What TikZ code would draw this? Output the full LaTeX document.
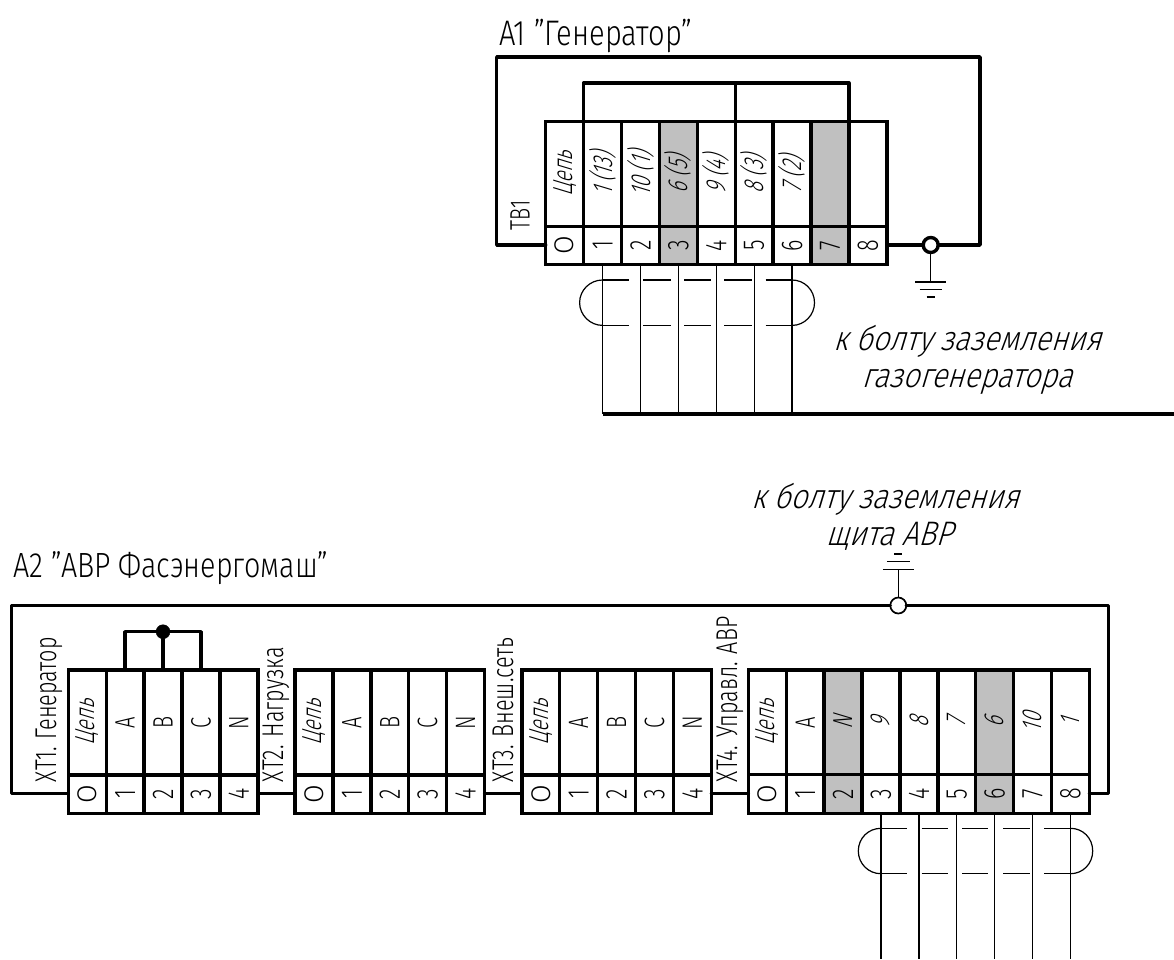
\documentclass[tikz,border=0pt]{standalone}
\usepackage{graphicx}
\usepackage{fontspec}
\newfontfamily\gost[FakeStretch=0.72]{Fira Sans Light}
\newfontfamily\gosttitle[FakeStretch=0.82]{Fira Sans Light}
\newfontfamily\gostit[FakeStretch=0.72,FakeSlant=0.3]{Fira Sans Light}
\newfontfamily\gostnote[FakeStretch=0.86,FakeSlant=0.3]{Fira Sans Light}
\newfontfamily\gostround{Fira Sans Light}
\newcommand{\rl}[1]{\rotatebox{90}{\fontsize{28}{30}\selectfont\gost #1}}
\newcommand{\rd}[1]{\rotatebox{90}{\fontsize{30}{32}\selectfont\gost #1}}
\newcommand{\ri}[1]{\rotatebox{90}{\fontsize{27.5}{30}\selectfont\gostit #1}}
\newcommand{\ro}{\rotatebox{90}{\fontsize{27}{30}\selectfont\gostround O}}
\definecolor{cellgray}{HTML}{C0C0C0}
\tikzset{
  upcell/.style={rectangle,draw=black,line width=3.4pt,inner sep=0pt,outer sep=0pt,minimum width=37.9pt,minimum height=105pt},
  locell/.style={rectangle,draw=black,line width=3.4pt,inner sep=0pt,outer sep=0pt,minimum width=37.9pt,minimum height=38.5pt},
  thickw/.style={line width=3.4pt,line cap=round,line join=round},
  thinw/.style={line width=1.3pt},
  shieldl/.style={line width=1.2pt},
  gndbar/.style={line width=1.3pt},
  jointA/.style={circle,draw=black,fill=white,line width=3.4pt,inner sep=0pt,outer sep=0pt,minimum size=15pt},
  jointB/.style={circle,draw=black,fill=white,line width=1.7pt,inner sep=0pt,outer sep=0pt,minimum size=16pt},
  jointC/.style={circle,draw=black,fill=black,inner sep=0pt,outer sep=0pt,minimum size=14pt},
  lab/.style={inner sep=0pt,outer sep=0pt,text=black},
  titlelab/.style={lab,font=\fontsize{35.5}{40}\selectfont\gosttitle,anchor=base west},
  notelab/.style={lab,font=\fontsize{34}{37.5}\selectfont\gostnote,align=center},
}
\begin{document}
\begin{tikzpicture}[x=1pt,y=-1pt]
\useasboundingbox[fill=white] (0,0) rectangle (1174,959);
% ---------- A1 ----------
\foreach \i/\u/\l/\c in {
 0/{\ri{Цепь}}/{\ro}/white,
 1/{\ri{1 (13)}}/{\rd{1}}/white,
 2/{\ri{10 (1)}}/{\rd{2}}/white,
 3/{\ri{6 (5)}}/{\rd{3}}/cellgray,
 4/{\ri{9 (4)}}/{\rd{4}}/white,
 5/{\ri{8 (3)}}/{\rd{5}}/white,
 6/{\ri{7 (2)}}/{\rd{6}}/white,
 7/{}/{\rd{7}}/cellgray,
 8/{}/{\rd{8}}/white}{
  \node[upcell,fill=\c] (au\i) at ({564.65+37.9*\i},174) {\u};
  \node[locell,fill=\c] (al\i) at ({564.65+37.9*\i},245.5) {\l};
}
\node[titlelab] (atitle) at (499,45) {A1 ”Генератор”};
\node[lab] (atb) at (520,230) [anchor=south] {\rl{TB1}};
\coordinate (aTL) at (496.7,57);
\coordinate (aTR) at (980,57);
\coordinate (aBL) at (496.7,245);
\coordinate (aBR) at (980,245);
\node[jointA] (agnd) at (930.7,245) {};
\draw[thickw] (al0.west |- aBL) -- (aBL) -- (aTL) -- (aTR) -- (aBR) -- (agnd.east);
\draw[thickw] (agnd.west) -- (al8.east |- aBL);
% bridge
\coordinate (aBrY) at (0,83);
\draw[thickw] (au0.north east) -- (au0.north east |- aBrY) -- (au7.north east |- aBrY) -- (au7.north east);
\draw[thickw] (au4.north east) -- (au4.north east |- aBrY);
% earth
\coordinate (ae1) at (930.7,282);
\coordinate (ae2) at (930.7,289.5);
\coordinate (ae3) at (930.7,297);
\draw[thinw] (agnd.south) -- (ae1);
\draw[gndbar] ([xshift=-15.5pt]ae1) -- ([xshift=15.5pt]ae1);
\draw[gndbar] ([xshift=-11pt]ae2) -- ([xshift=11pt]ae2);
\draw[gndbar] ([xshift=-4pt]ae3) -- ([xshift=4pt]ae3);
\node[notelab] (anote) at (967,360) {к болту заземления\\газогенератора};
% wires + bus
\coordinate (busL) at (602.6,414);
\coordinate (busR) at (1174,414);
\foreach \i in {1,...,6}{\draw[thinw] (al\i.south) -- (al\i.south |- busL);}
\draw[line width=3.4pt] (busL) -- (busR);
% shield
\draw[shieldl] (al1.south |- 0,280) .. controls +(-12.4,0) and (579.6,290) .. (579.6,302.7) .. controls (579.6,315) and +(-12.4,0) .. (al1.south |- 0,325.4);
\draw[shieldl] (al6.south |- 0,280) .. controls +(12.4,0) and (814.5,290) .. (814.5,302.7) .. controls (814.5,315) and +(12.4,0) .. (al6.south |- 0,325.4);
\foreach \y in {280,325.4}{
 \foreach \a/\b in {602.6/629,643/671,684/711,724/752,765.6/792}{
  \draw[shieldl] (\a,\y) -- (\b,\y);
 }
}
% ---------- A2 ----------
\foreach \g/\x in {1/68.3,2/295,3/521.8}{
 \foreach \i/\u/\l in {
  0/{\ri{Цепь}}/{\ro},
  1/{\rl{A}}/{\rd{1}},
  2/{\rl{B}}/{\rd{2}},
  3/{\rl{C}}/{\rd{3}},
  4/{\rl{N}}/{\rd{4}}}{
   \node[upcell] (b\g u\i) at ({\x+18.95+37.9*\i},722.5) {\u};
   \node[locell] (b\g l\i) at ({\x+18.95+37.9*\i},794) {\l};
 }
}
\foreach \i/\u/\l/\c in {
 0/{\ri{Цепь}}/{\ro}/white,
 1/{\rl{A}}/{\rd{1}}/white,
 2/{\ri{N}}/{\rd{2}}/cellgray,
 3/{\ri{9}}/{\rd{3}}/white,
 4/{\ri{8}}/{\rd{4}}/white,
 5/{\ri{7}}/{\rd{5}}/white,
 6/{\ri{6}}/{\rd{6}}/cellgray,
 7/{\ri{10}}/{\rd{7}}/white,
 8/{\ri{1}}/{\rd{8}}/white}{
  \node[upcell,fill=\c] (b4u\i) at ({748.3+18.95+37.9*\i},722.5) {\u};
  \node[locell,fill=\c] (b4l\i) at ({748.3+18.95+37.9*\i},794) {\l};
}
\node[titlelab,font=\fontsize{35}{40}\selectfont\gosttitle] (btitle) at (13,577) {A2 ”АВР Фасэнергомаш”};
\node[lab,anchor=south] (bx1) at (49,782) {\rd{XT1. Генератор}};
\node[lab,anchor=south] (bx2) at (276,782) {\rd{XT2. Нагрузка}};
\node[lab,anchor=south] (bx3) at (503,782) {\rd{XT3. Внеш.сеть}};
\node[lab,anchor=south] (bx4) at (730,782) {\rd{XT4. Управл. АВР}};
\coordinate (bTL) at (11.7,605.5);
\coordinate (bTR) at (1108.3,605.5);
\coordinate (bBL) at (11.7,793.5);
\coordinate (bBR) at (1108.3,793.5);
\node[jointB] (bgnd) at (898.3,605.5) {};
\draw[thickw] (b1l0.west |- bBL) -- (bBL) -- (bTL) -- (bgnd.west);
\draw[thickw] (bgnd.east) -- (bTR) -- (bBR) -- (b4l8.east |- bBR);
\draw[thickw] (b1l4.east |- bBL) -- (b2l0.west |- bBL);
\draw[thickw] (b2l4.east |- bBL) -- (b3l0.west |- bBL);
\draw[thickw] (b3l4.east |- bBL) -- (b4l0.west |- bBL);
% jumper
\node[jointC] (bjp) at (b1u2.north |- 0,631.7) {};
\draw[thickw] (b1u1.north) -- (b1u1.north |- bjp) -- (b1u3.north |- bjp) -- (b1u3.north);
\draw[thickw] (bjp) -- (b1u2.north);
% earth
\coordinate (be1) at (898.3,569.5);
\coordinate (be2) at (898.3,561.5);
\coordinate (be3) at (898.3,554);
\draw[thinw] (bgnd.north) -- (be1);
\draw[gndbar] ([xshift=-15.5pt]be1) -- ([xshift=15.5pt]be1);
\draw[gndbar] ([xshift=-11.5pt]be2) -- ([xshift=11.5pt]be2);
\draw[gndbar] ([xshift=-4pt]be3) -- ([xshift=4pt]be3);
\node[notelab] (bnote) at (885,517) {к болту заземления\\\hspace*{8pt}щита АВР};
% wires
\coordinate (wEnd) at (0,959);
\foreach \i in {3,...,8}{\draw[thinw] (b4l\i.south) -- (b4l\i.south |- wEnd);}
% shield
\draw[shieldl] (b4l3.south |- 0,828.3) .. controls +(-12.4,0) and (858.3,838) .. (858.3,851) .. controls (858.3,863.7) and +(-12.4,0) .. (b4l3.south |- 0,873.7);
\draw[shieldl] (b4l8.south |- 0,828.3) .. controls +(12.4,0) and (1092.7,838) .. (1092.7,851) .. controls (1092.7,863.7) and +(12.4,0) .. (b4l8.south |- 0,873.7);
\foreach \y in {828.3,873.7}{
 \foreach \a/\b in {881/906.7,921.7/948,962/988,1003/1030,1044/1070}{
  \draw[shieldl] (\a,\y) -- (\b,\y);
 }
}
\end{tikzpicture}
\end{document}
